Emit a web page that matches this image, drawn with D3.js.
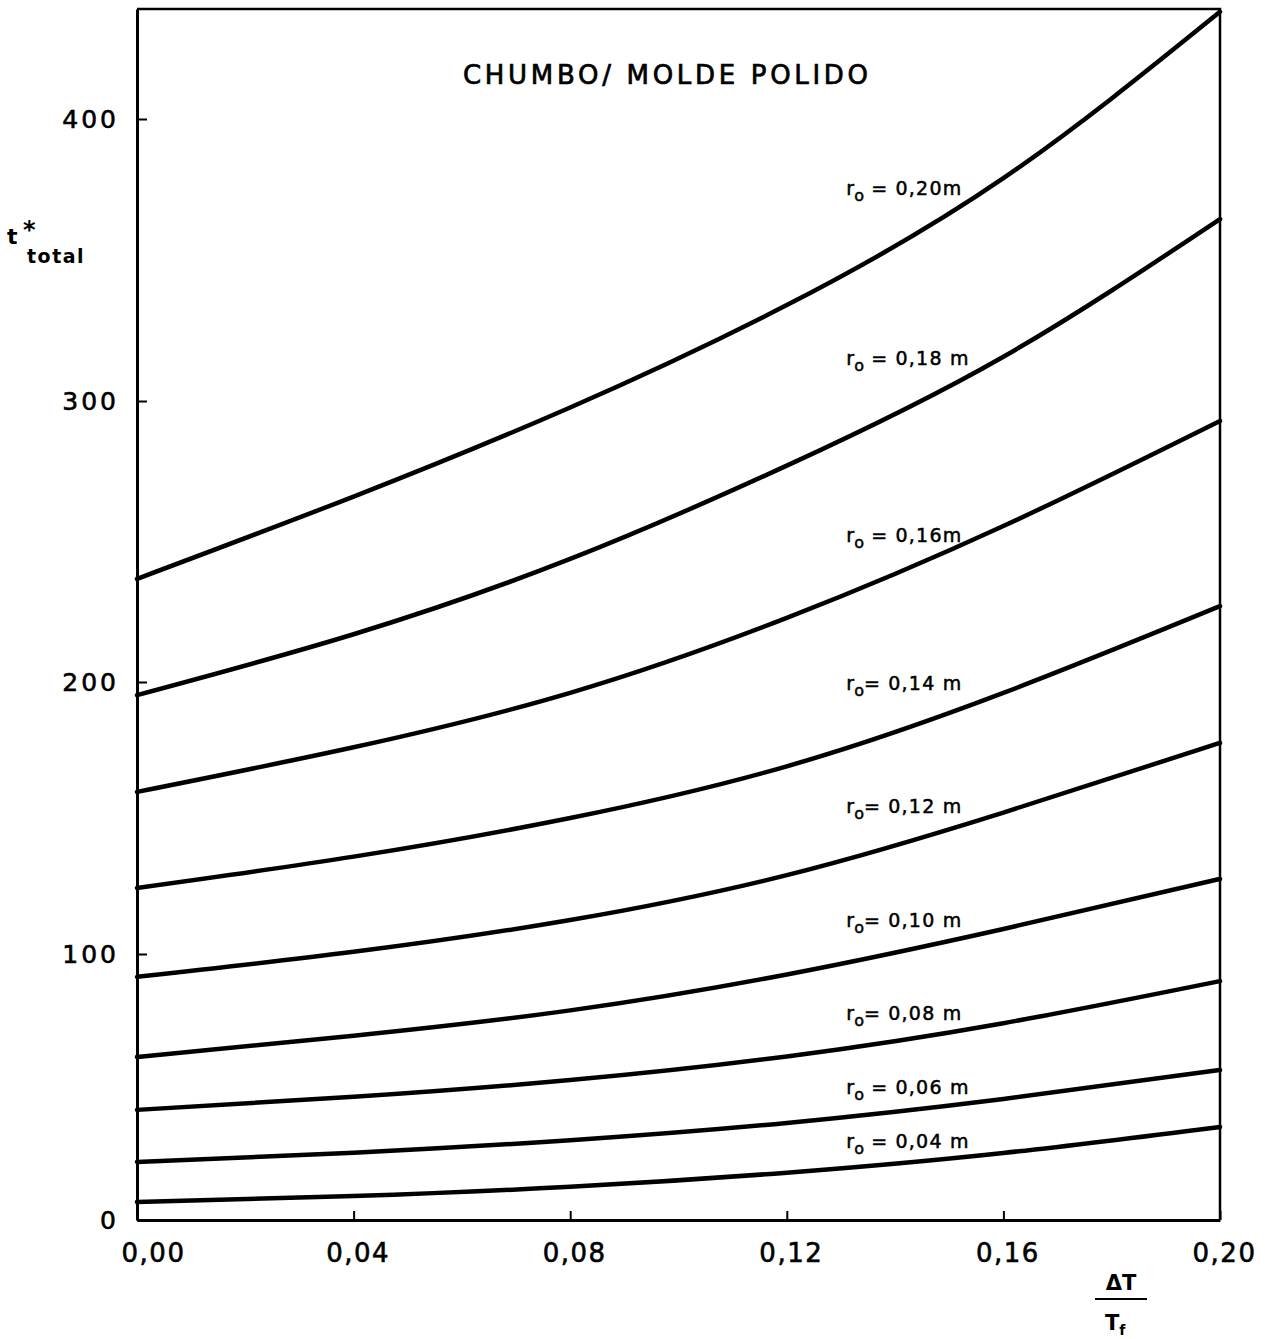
<!DOCTYPE html>
<html>
<head>
<meta charset="utf-8">
<script src="https://cdn.jsdelivr.net/npm/d3@7"></script>
<style>
  html, body { margin: 0; padding: 0; background: #fff; }
  svg { display: block; }
  text { font-family: "DejaVu Sans", sans-serif; fill: #000; }
</style>
</head>
<body>
<svg id="chart" width="1265" height="1339"></svg>
<script>
// ΔT/Tf values at which each curve is sampled
const deltaT = [0.00, 0.04, 0.08, 0.12, 0.16, 0.20];

// Total solidification time t*total for each mould radius r0
const r020 = [236.7, 266.0, 297.7, 334.0, 379.0, 438.0];
const r018 = [195.2, 217.0, 243.8, 277.0, 315.7, 364.5];
const r016 = [159.6, 176.0, 196.0, 222.8, 255.5, 292.9];
const r014 = [124.3, 135.8, 150.0, 169.0, 196.0, 227.0];
const r012 = [91.4, 100.8, 112.5, 129.0, 152.0, 177.6];
const r010 = [61.3, 69.3, 78.8, 92.3, 109.2, 127.6];
const r008 = [41.4, 46.3, 52.6, 61.5, 74.0, 89.8];
const r006 = [21.8, 25.3, 30.0, 36.5, 45.5, 56.4];
const r004 = [6.8, 9.0, 12.5, 17.8, 25.2, 35.0];

const radiusLabels = ["0,20m", "0,18 m", "0,16m", "0,14 m", "0,12 m", "0,10 m", "0,08 m", "0,06 m", "0,04 m"];
const radiusEquals = [" = ", " = ", " = ", "= ", "= ", "= ", "= ", " = ", " = "];
const seriesValues = [r020, r018, r016, r014, r012, r010, r008, r006, r004];

const xTickValues = [0.00, 0.04, 0.08, 0.12, 0.16, 0.20];
const xTickLabels = ["0,00", "0,04", "0,08", "0,12", "0,16", "0,20"];
const yTickValues = [0, 100, 200, 300, 400];
const yTickLabels = ["0", "100", "200", "300", "400"];

const title = "CHUMBO/ MOLDE POLIDO";

// ---- layout ----
const svg = d3.select("#chart");
const plotLeft = 137, plotRight = 1220, plotTop = 9, plotBottom = 1220;

const x = d3.scaleLinear().domain([0, 0.20]).range([plotLeft, plotRight]);
// the hand-ruled ordinate is slightly uneven between its gridmarks
const y = d3.scaleLinear()
  .domain([0, 100, 200, 300, 400, 439])
  .range([plotBottom, 954, 682, 401, 119, plotTop]);

// frame (top and right sides)
svg.append("path")
  .attr("d", `M${plotLeft},${plotTop} H${plotRight} V${plotBottom}`)
  .attr("fill", "none").attr("stroke", "#000").attr("stroke-width", 2.5);

// bottom axis with inward ticks
const xAxis = d3.axisBottom(x)
  .tickValues(xTickValues)
  .tickFormat((d, i) => xTickLabels[i])
  .tickSizeInner(-9).tickSizeOuter(0).tickPadding(24);
const gx = svg.append("g").attr("transform", `translate(0,${plotBottom})`).call(xAxis);
gx.select(".domain").attr("stroke-width", 3);
gx.selectAll(".tick line").attr("stroke-width", 2);
gx.selectAll(".tick text")
  .attr("font-size", 26).attr("letter-spacing", 1.5)
  .attr("font-family", "DejaVu Sans")
  .attr("stroke", "#000").attr("stroke-width", 0.6)
  .attr("dx", (d, i) => i === 0 ? 16 : 4);

// left axis with inward ticks
const yAxis = d3.axisLeft(y)
  .tickValues(yTickValues)
  .tickFormat((d, i) => yTickLabels[i])
  .tickSizeInner(-10).tickSizeOuter(0).tickPadding(18);
const gy = svg.append("g").attr("transform", `translate(${plotLeft},0)`).call(yAxis);
gy.select(".domain").attr("stroke-width", 3);
gy.selectAll(".tick line").attr("stroke-width", 2);
gy.selectAll(".tick text")
  .attr("font-size", 25).attr("letter-spacing", 3)
  .attr("font-family", "DejaVu Sans")
  .attr("stroke", "#000").attr("stroke-width", 0.6);

// curves
const line = d3.line()
  .x((d, i) => x(deltaT[i]))
  .y(d => y(d))
  .curve(d3.curveNatural);

svg.append("g").selectAll("path")
  .data(seriesValues)
  .join("path")
  .attr("d", d => line(d))
  .attr("fill", "none")
  .attr("stroke", "#000")
  .attr("stroke-width", 4.5)
  .attr("stroke-linecap", "round");

// curve labels, set just above each curve near ΔT/Tf = 0.14
const labelGap = [47, 46, 30, 40, 31, 25, 20, 17, 14.5];
const labelX = x(0.131);
const labels = svg.append("g").selectAll("text")
  .data(seriesValues)
  .join("text")
  .attr("x", labelX)
  .attr("y", (d, i) => y((d[3] + d[4]) / 2) - labelGap[i])
  .attr("font-size", 19)
  .attr("stroke", "#000").attr("stroke-width", 0.5);
labels.append("tspan").text("r");
labels.append("tspan").attr("font-size", 16).attr("dy", 6).text("o");
labels.append("tspan").attr("dy", -6).attr("letter-spacing", 1.2)
  .text((d, i) => radiusEquals[i] + radiusLabels[i]);

// title
svg.append("text")
  .attr("x", 463).attr("y", 84)
  .attr("font-size", 26)
  .attr("stroke", "#000").attr("stroke-width", 0.7)
  .attr("textLength", 405).attr("lengthAdjust", "spacing")
  .text(title);

// ordinate title: t* total
const yt = svg.append("g").attr("font-weight", "bold");
yt.append("text").attr("x", 7).attr("y", 244).attr("font-size", 22).text("t");
yt.append("text").attr("x", 23).attr("y", 238).attr("font-size", 24).text("*");
yt.append("text").attr("x", 27).attr("y", 263).attr("font-size", 19)
  .attr("letter-spacing", 1.5).text("total");

// abscissa title: ΔT / Tf
const xt = svg.append("g").attr("font-weight", "bold");
xt.append("text").attr("x", 1121).attr("y", 1290).attr("text-anchor", "middle")
  .attr("font-size", 21).text("ΔT");
xt.append("line").attr("x1", 1095).attr("x2", 1147).attr("y1", 1299).attr("y2", 1299)
  .attr("stroke", "#000").attr("stroke-width", 2);
const tf = xt.append("text").attr("x", 1105).attr("y", 1330).attr("font-size", 21);
tf.append("tspan").text("T");
tf.append("tspan").attr("font-size", 14).attr("dy", 5).text("f");
</script>
</body>
</html>
